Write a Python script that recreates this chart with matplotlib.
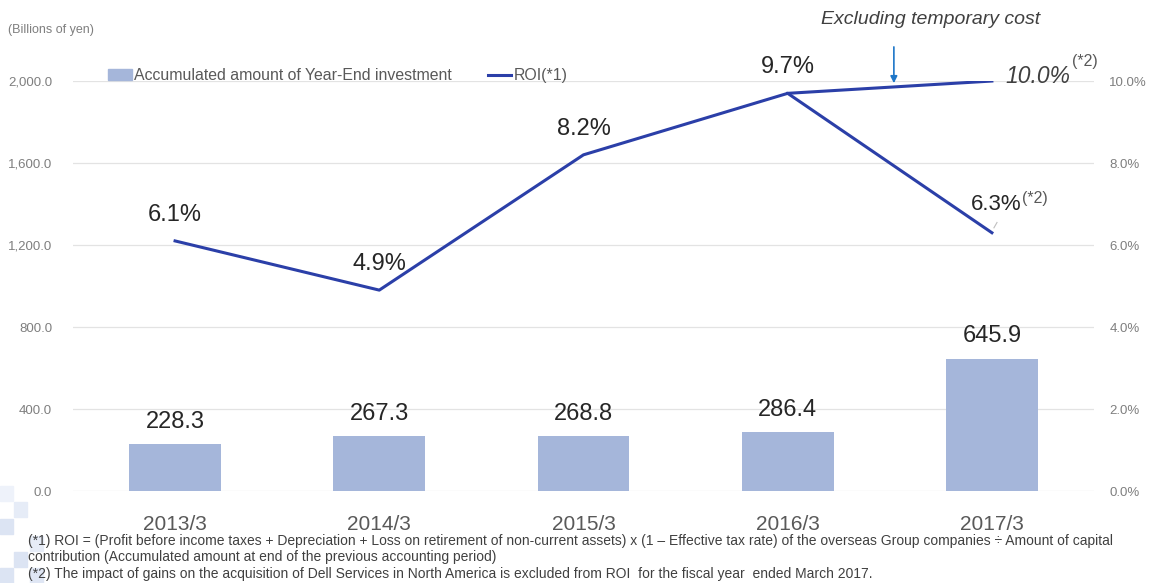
import matplotlib.pyplot as plt
import matplotlib.patches as mpatches
from matplotlib.lines import Line2D
from matplotlib.ticker import FuncFormatter

plt.rcParams['font.family'] = ['Liberation Sans', 'DejaVu Sans']

# data
years = ['2013/3', '2014/3', '2015/3', '2016/3', '2017/3']
investment = [228.3, 267.3, 268.8, 286.4, 645.9]
roi = [6.1, 4.9, 8.2, 9.7, 6.3]
roi_excl_years = [3, 4]
roi_excl = [9.7, 10.0]

bar_color = '#A5B6DA'
line_color = '#2B3FA8'
grey = '#7F7F7F'
dark = '#404040'

fig = plt.figure(figsize=(11.6, 5.83), dpi=100)
ax = fig.add_axes([0.0629, 0.1578, 0.8802, 0.7032])
ax2 = ax.twinx()

x = range(len(years))
ax.bar(x, investment, width=0.45, color=bar_color, zorder=2)
ax.set_ylim(0, 2000)
ax.set_xlim(-0.5, 4.5)
ax.set_yticks([0, 400, 800, 1200, 1600, 2000])
ax.yaxis.set_major_formatter(FuncFormatter(lambda v, p: f'{v:,.1f}'))
ax.grid(axis='y', color='#E3E3E3', lw=0.9, zorder=0)
ax.set_xticks(list(x))
ax.set_xticklabels(years, fontsize=15, color='#595959')
ax.tick_params(axis='x', length=0, pad=17)
ax.tick_params(axis='y', length=0, labelsize=9.5, labelcolor=grey, pad=15)
for s in ax.spines.values():
    s.set_visible(False)
for s in ax2.spines.values():
    s.set_visible(False)

for i, v in enumerate(investment):
    ax.annotate(f'{v:.1f}', (i, v), xytext=(0, 8), textcoords='offset points',
                ha='center', va='bottom', fontsize=17, color='#262626')

ax2.plot(list(x), roi, color=line_color, lw=2.2, zorder=3)
ax2.plot(roi_excl_years, roi_excl, color=line_color, lw=2.2, zorder=3)
ax2.set_ylim(0, 10)
ax2.set_yticks([0, 2, 4, 6, 8, 10])
ax2.yaxis.set_major_formatter(FuncFormatter(lambda v, p: f'{v:.1f}%'))
ax2.tick_params(axis='y', length=0, labelsize=9.5, labelcolor=grey, pad=11)

for i in range(4):
    ax2.annotate(f'{roi[i]:.1f}%', (i, roi[i]), xytext=(0, 11), textcoords='offset points',
                 ha='center', va='bottom', fontsize=17, color='#262626')
ax2.annotate(f'{roi[4]:.1f}%', (4, roi[4]), xytext=(-15, 20), textcoords='offset points',
             ha='left', va='center', fontsize=16, color='#262626')
ax2.annotate('(*2)', (4, roi[4]), xytext=(22, 25), textcoords='offset points',
             ha='left', va='center', fontsize=11.5, color='#595959')
# small leader tick next to the 6.3% point
ax2.annotate('', (4, roi[4]), xytext=(4, roi[4]), textcoords='data')
ax2.plot([4.01, 4.025], [6.42, 6.55], color='#BFBFBF', lw=0.8, zorder=3)
ax2.annotate(f'{roi_excl[1]:.1f}%', (4, roi_excl[1]), xytext=(10, 3), textcoords='offset points',
             ha='left', va='center', fontsize=16.5, style='italic', color=dark)
ax2.annotate('(*2)', (4, roi_excl[1]), xytext=(58, 14), textcoords='offset points',
             ha='left', va='center', fontsize=11.5, color='#595959')

# arrow to the excluded-cost line
ax2.annotate('', xy=(3.52, 9.88), xytext=(3.52, 10.9),
             arrowprops=dict(arrowstyle='-|>', color='#1F77C8', lw=1.2, mutation_scale=10),
             annotation_clip=False)
fig.text(0.802, 0.966, 'Excluding temporary cost', ha='center', va='center',
         fontsize=14, style='italic', color=dark)

fig.text(0.007, 0.948, '(Billions of yen)', fontsize=9, color=grey, va='center')

handles = [mpatches.Patch(color=bar_color), Line2D([0], [0], color=line_color, lw=2.2)]
fig.legend(handles, ['Accumulated amount of Year-End investment', 'ROI(*1)'],
           loc='center left', bbox_to_anchor=(0.093, 0.870), ncol=2, frameon=False,
           fontsize=11.4, labelcolor='#595959', handlelength=1.5, handletextpad=0.12,
           columnspacing=2.3, borderpad=0, borderaxespad=0)

# decorative squares bottom left
squares = [(0, 486, '#EEF2FA'), (14, 502, '#E6ECF7'), (0, 519, '#DCE4F3'),
           (30, 536, '#E6ECF7'), (14, 552, '#DCE4F3'), (0, 568, '#DCE4F3'),
           (30, 568, '#DFE6F4')]
for px, py, c in squares:
    fig.patches.append(mpatches.Rectangle((px / 1160, 1 - (py + 15) / 583), 13 / 1160, 15 / 583,
                                          transform=fig.transFigure, color=c, zorder=0))

notes = [
    '(*1) ROI = (Profit before income taxes + Depreciation + Loss on retirement of non-current assets) x (1 \u2013 Effective tax rate) of the overseas Group companies \u00f7 Amount of capital',
    'contribution (Accumulated amount at end of the previous accounting period)',
    '(*2) The impact of gains on the acquisition of Dell Services in North America is excluded from ROI  for the fiscal year  ended March 2017.',
]
for k, t in enumerate(notes):
    fig.text(0.0245, 1 - (541 + 16.5 * k) / 583, t, fontsize=10, color=dark, va='center')

fig.savefig('out.png', dpi=100)
